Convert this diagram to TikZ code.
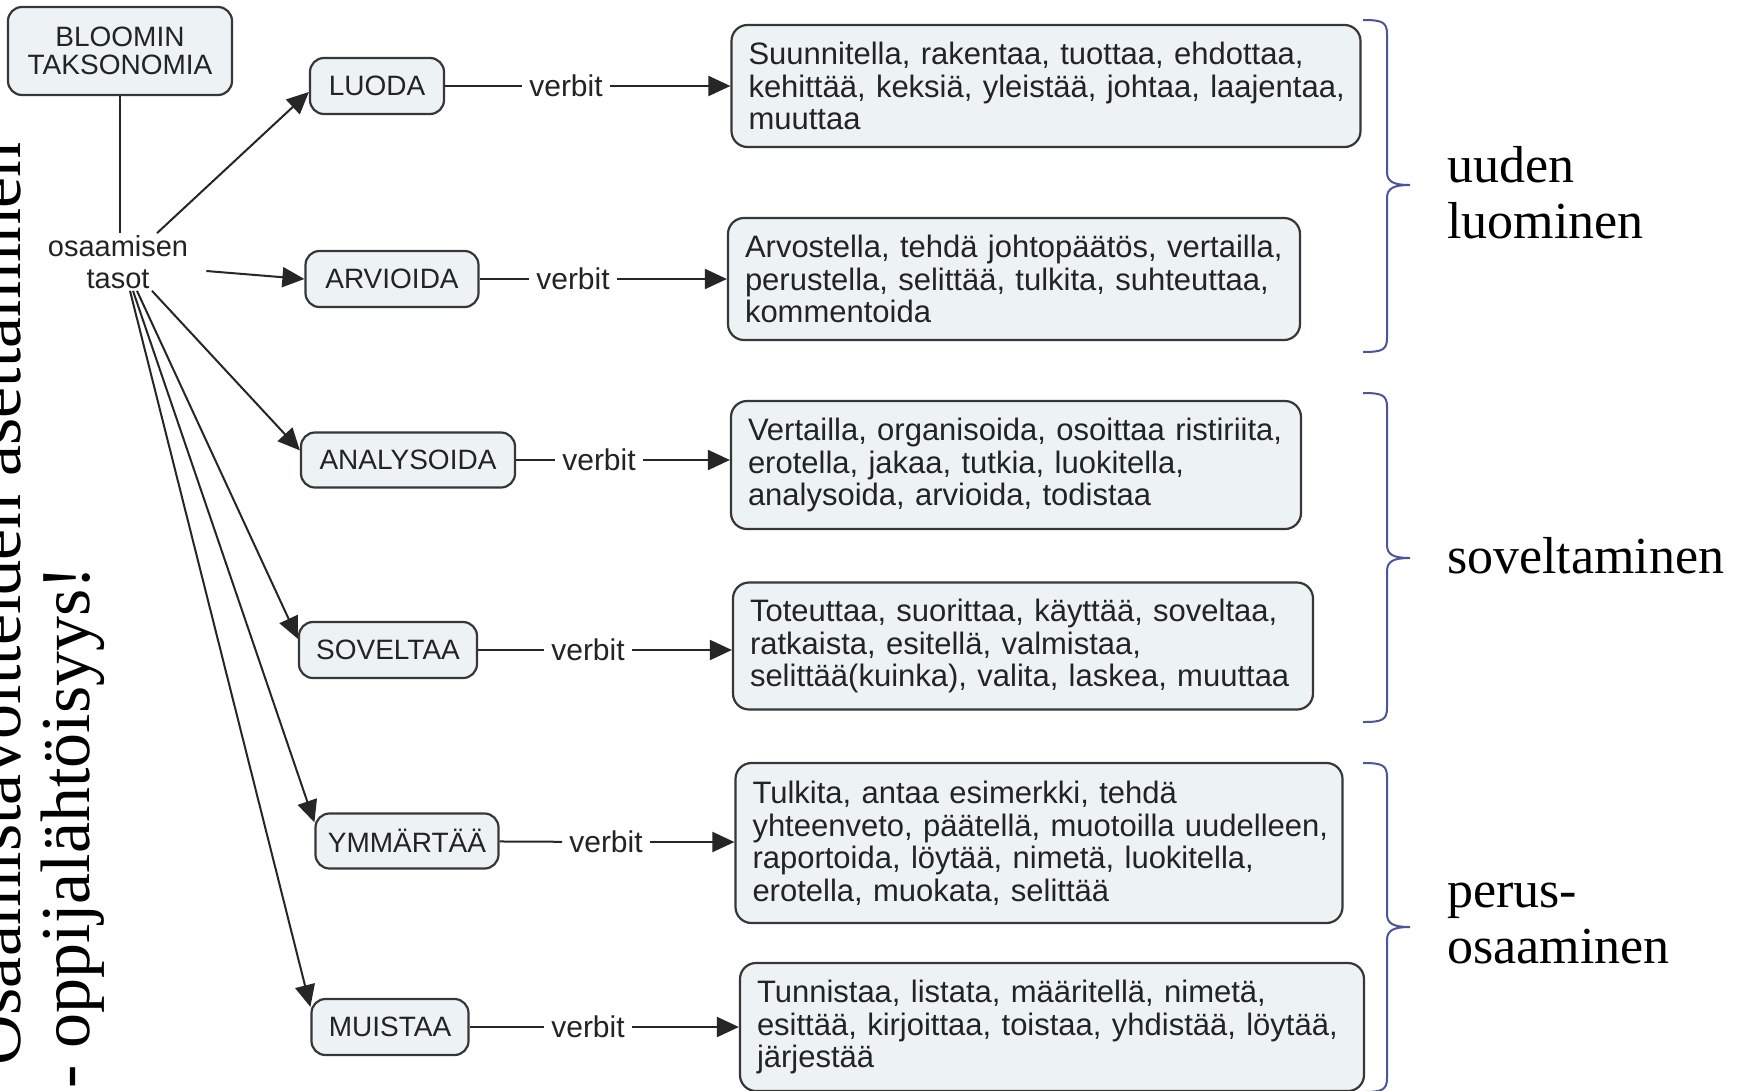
\documentclass[tikz,border=0pt]{standalone}
\usepackage{fontspec}
\newfontfamily\dsans{Liberation Sans}
\newfontfamily\dserif{Liberation Serif}
\usetikzlibrary{arrows.meta}
\definecolor{boxfill}{RGB}{237,242,245}
\definecolor{boxline}{RGB}{55,55,55}
\definecolor{txt}{RGB}{35,35,35}
\definecolor{bracecol}{RGB}{75,85,155}
\newcommand\vl[1]{\mbox{#1}}
\newcommand\drawbrace[3]{\draw[bracepath] (1363,#1) .. controls (1382,#1) and (1387,{#1+2}) .. (1387,{#1+14}) -- (1387,{#2-13}) .. controls (1387,{#2-3}) and (1394,#2) .. (1410,#2) .. controls (1394,#2) and (1387,{#2+3}) .. (1387,{#2+13}) -- (1387,{#3-14}) .. controls (1387,{#3-2}) and (1382,#3) .. (1363,#3);}
\begin{document}
\begin{tikzpicture}[x=1pt,y=-1pt,
  box/.style={draw=boxline, fill=boxfill, line width=2.2pt, rounded corners=14pt, text=txt, inner sep=0pt},
  lvl/.style={box, font=\dsans\fontsize{28}{30}\selectfont},
  vbox/.style={box, rounded corners=16pt, font=\dsans\fontsize{31}{32.5}\selectfont, align=left, inner xsep=17pt, inner ysep=0pt},
  lbl/.style={font=\dsans\fontsize{30}{32}\selectfont, text=txt, inner xsep=7pt, inner ysep=2pt},
  conn/.style={line width=2pt, draw=black!85},
  arr/.style={conn, -{Triangle[length=22pt,width=20pt]}},
  bigtxt/.style={font=\dserif\fontsize{52}{56}\selectfont, inner sep=0pt, text=black},
  sidetxt/.style={font=\dserif\fontsize{70}{70}\selectfont, inner sep=0pt, rotate=90, anchor=base west, text=black},
  bracepath/.style={draw=bracecol, line width=2pt}
]
\useasboundingbox[fill=white] (0,0) rectangle (1750,1090);

% title and hub
\node[box, font=\dsans\fontsize{28}{28}\selectfont, align=center, minimum width=224pt, minimum height=88pt] (title) at (120,51) {BLOOMIN\\TAKSONOMIA};
\node[lbl, align=center, font=\dsans\fontsize{29}{32}\selectfont] (osa) at (118,262) {osaamisen\\tasot};

% levels
\node[lvl, minimum width=134pt, minimum height=56pt] (luoda) at (377,86) {LUODA};
\node[lvl, minimum width=173pt, minimum height=56pt] (arv) at (392,279) {ARVIOIDA};
\node[lvl, minimum width=214pt, minimum height=55pt] (ana) at (408,460) {ANALYSOIDA};
\node[lvl, minimum width=178pt, minimum height=56pt] (sov) at (388,650) {SOVELTAA};
\node[lvl, minimum width=183pt, minimum height=55pt] (ymm) at (407,841) {YMMÄRTÄÄ};
\node[lvl, minimum width=157pt, minimum height=56pt] (mui) at (390,1027) {MUISTAA};

% verb boxes
\node[vbox, text width=595pt, minimum height=122pt] (v1) at (1046,86) {\vl{Suunnitella, rakentaa, tuottaa, ehdottaa,}\\\vl{kehittää, keksiä, yleistää, johtaa, laajentaa,}\\\vl{muuttaa}};
\node[vbox, text width=538pt, minimum height=122pt] (v2) at (1014,279) {\vl{Arvostella, tehdä johtopäätös, vertailla,}\\\vl{perustella, selittää, tulkita, suhteuttaa,}\\\vl{kommentoida}};
\node[vbox, text width=536pt, minimum height=128pt] (v3) at (1016,465) {\vl{Vertailla, organisoida, osoittaa ristiriita,}\\\vl{erotella, jakaa, tutkia, luokitella,}\\\vl{analysoida, arvioida, todistaa}};
\node[vbox, text width=546pt, minimum height=127pt] (v4) at (1023,646) {\vl{Toteuttaa, suorittaa, käyttää, soveltaa,}\\\vl{ratkaista, esitellä, valmistaa,}\\\vl{selittää(kuinka), valita, laskea, muuttaa}};
\node[vbox, text width=573pt, minimum height=160pt] (v5) at (1039,843) {\vl{Tulkita, antaa esimerkki, tehdä}\\\vl{yhteenveto, päätellä, muotoilla uudelleen,}\\\vl{raportoida, löytää, nimetä, luokitella,}\\\vl{erotella, muokata, selittää}};
\node[vbox, text width=590pt, minimum height=128pt] (v6) at (1052,1027) {\vl{Tunnistaa, listata, määritellä, nimetä,}\\\vl{esittää, kirjoittaa, toistaa, yhdistää, löytää,}\\\vl{järjestää}};

% verbit labels
\node[lbl] (l1) at (566,86) {verbit};
\node[lbl] (l2) at (573,279) {verbit};
\node[lbl] (l3) at (599,460) {verbit};
\node[lbl] (l4) at (588,650) {verbit};
\node[lbl] (l5) at (606,842) {verbit};
\node[lbl] (l6) at (588,1027) {verbit};

% connectors
\draw[conn] (title) -- (title |- osa.north);
\draw[arr] ([xshift=39pt]osa.north) -- ([yshift=-6pt]luoda.west);
\draw[arr] ([xshift=11pt,yshift=-9pt]osa.east) -- (arv.west);
\draw[arr] ([xshift=34pt]osa.south) -- ([yshift=-19pt]ana.north west);
\draw[arr] ([xshift=19pt]osa.south) -- ([yshift=-18pt]sov.north west);
\draw[arr] ([xshift=15pt]osa.south) -- ([yshift=-10pt]ymm.north west);
\draw[arr] ([xshift=12pt]osa.south) -- ([yshift=-9pt]mui.north west);

\draw[conn] (luoda) -- (l1);
\draw[conn] (arv) -- (l2);
\draw[conn] (ana) -- (l3);
\draw[conn] (sov) -- (l4);
\draw[conn] (ymm) -- (l5);
\draw[conn] (mui) -- (l6);
\draw[arr] (l1) -- (l1 -| v1.west);
\draw[arr] (l2) -- (l2 -| v2.west);
\draw[arr] (l3) -- (l3 -| v3.west);
\draw[arr] (l4) -- (l4 -| v4.west);
\draw[arr] (l5) -- (l5 -| v5.west);
\draw[arr] (l6) -- (l6 -| v6.west);

% braces and their labels
\drawbrace{20}{185}{352}
\drawbrace{393}{558}{722}
\drawbrace{763}{927}{1092}
\node[bigtxt, anchor=base west] (r1) at (1447,182) {\begin{tabular}[t]{@{}l@{}}uuden\\luominen\end{tabular}};
\node[bigtxt, anchor=base west] (r2) at (1447,573) {soveltaminen};
\node[bigtxt, anchor=base west] (r3) at (1447,907) {\begin{tabular}[t]{@{}l@{}}perus-\\osaaminen\end{tabular}};

% rotated side text
\node[sidetxt] (s1) at (20,1066) {Osaamistavoitteiden asettaminen};
\node[sidetxt] (s2) at (89,1089) {- oppijalähtöisyys!};
\end{tikzpicture}
\end{document}
